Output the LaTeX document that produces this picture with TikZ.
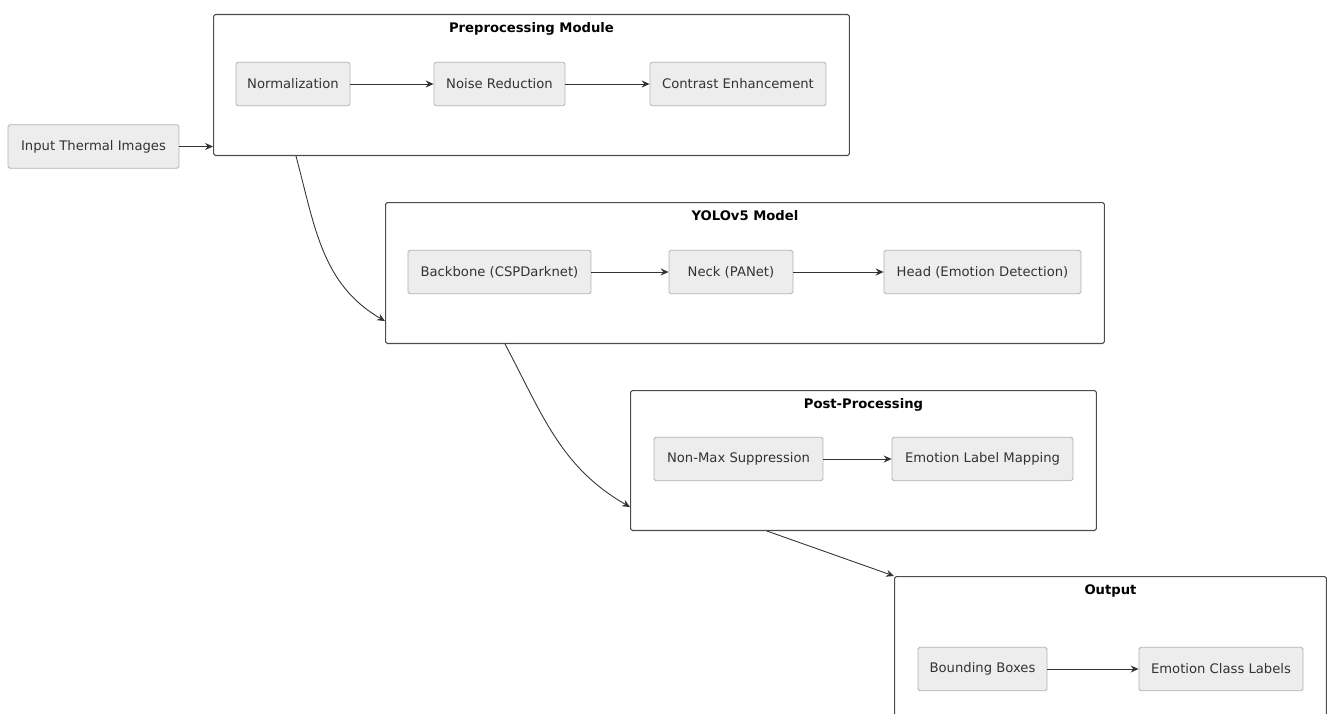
\documentclass[tikz,border=0pt]{standalone}
\usepackage{fontspec}
\setmainfont{DejaVu Sans}
\usetikzlibrary{arrows.meta}
\begin{document}
\begin{tikzpicture}[x=0.02cm, y=-0.02cm, font=\fontsize{7.5}{9}\selectfont, line join=round, line cap=round, >={Stealth[length=4.5pt,width=4pt,inset=1.5pt]},
	khung/.style={draw=black!70, line width=0.6pt, rounded corners=1pt, anchor=north west, inner sep=0pt},
	hop/.style={draw=black!30, fill=black!7, text=black!80, line width=0.5pt, rounded corners=1pt, minimum height=0.87cm, inner sep=0pt},
	tieude/.style={font=\fontsize{7.5}{9}\selectfont\bfseries, anchor=north, inner sep=0pt},
	noi/.style={->, draw=black!80, line width=0.5pt}]
	%Khung hình.
	\clip (0,0) rectangle (1327,713);
	%Các khối lớn.
	\node[khung, minimum width=12.72cm, minimum height=2.82cm] (pre) at (213,14) {};
	\node[khung, minimum width=14.38cm, minimum height=2.82cm] (yolo) at (385,202) {};
	\node[khung, minimum width=9.32cm, minimum height=2.80cm] (post) at (630,390) {};
	\node[khung, minimum width=8.64cm, minimum height=3.20cm] (out) at (894,576) {};
	%Tiêu đề.
	\node[tieude] at ([yshift=-0.16cm]pre.north) {Preprocessing Module};
	\node[tieude] at ([yshift=-0.16cm]yolo.north) {YOLOv5 Model};
	\node[tieude] at ([yshift=-0.16cm]post.north) {Post-Processing};
	\node[tieude] at ([yshift=-0.16cm]out.north) {Output};
	%Các hộp nhỏ.
	\node[hop, minimum width=3.42cm] (inp) at (93.5,146.5) {Input Thermal Images};
	\node[hop, minimum width=2.28cm] (norm) at (293,84) {Normalization};
	\node[hop, minimum width=2.62cm] (noise) at (499.5,84) {Noise Reduction};
	\node[hop, minimum width=3.52cm] (contr) at (738,84) {Contrast Enhancement};
	\node[hop, minimum width=3.66cm] (back) at (499.5,272) {Backbone (CSPDarknet)};
	\node[hop, minimum width=2.48cm] (neck) at (731,272) {Neck (PANet)};
	\node[hop, minimum width=3.94cm] (head) at (982.5,272) {Head (Emotion Detection)};
	\node[hop, minimum width=3.38cm] (nms) at (738.5,459) {Non-Max Suppression};
	\node[hop, minimum width=3.62cm] (elm) at (982.5,459) {Emotion Label Mapping};
	\node[hop, minimum width=2.58cm] (bbox) at (982.5,669) {Bounding Boxes};
	\node[hop, minimum width=3.28cm] (ecl) at (1221,669) {Emotion Class Labels};
	%Mũi tên bên trong.
	\draw[noi] (norm)--(noise);
	\draw[noi] (noise)--(contr);
	\draw[noi] (back)--(neck);
	\draw[noi] (neck)--(head);
	\draw[noi] (nms)--(elm);
	\draw[noi] (bbox)--(ecl);
	%Mũi tên giữa các khối.
	\draw[noi] (inp.east)--(inp.east-|pre.west);
	\draw[noi] ([xshift=1.66cm]pre.south west) to[out=-75,in=150] ([yshift=0.46cm]yolo.south west);
	\draw[noi] ([xshift=2.4cm]yolo.south west) to[out=-62,in=150] ([yshift=0.48cm]post.south west);
	\draw[noi] ([xshift=2.74cm]post.south west)--(out.north west);
\end{tikzpicture}
\end{document}
